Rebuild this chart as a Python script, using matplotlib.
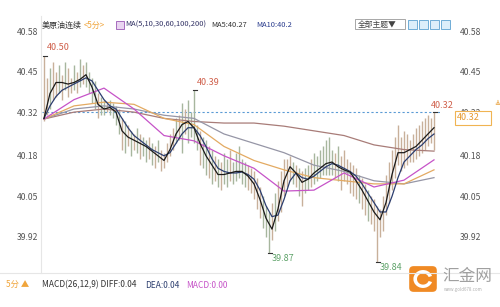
import matplotlib
matplotlib.use("Agg")
import matplotlib.pyplot as plt
from matplotlib.patches import FancyBboxPatch, Rectangle, Wedge

plt.rcParams['font.family'] = ['Noto Sans CJK SC', 'DejaVu Sans']

# ---------------- data ----------------
yticks = [40.58, 40.45, 40.32, 40.18, 40.05, 39.92]
ytick_labels = ["40.58", "40.45", "40.32", "40.18", "40.05", "39.92"]

highs = [40.50, 40.43, 40.46, 40.48, 40.45, 40.47, 40.44, 40.48, 40.46, 40.43,
         40.47, 40.45, 40.49, 40.47, 40.48, 40.45, 40.43, 40.42, 40.38, 40.37,
         40.36, 40.35, 40.36, 40.35, 40.34, 40.33, 40.30, 40.29, 40.28, 40.26,
         40.25, 40.27, 40.25, 40.24, 40.23, 40.24, 40.22, 40.21, 40.23, 40.20,
         40.19, 40.22, 40.25, 40.27, 40.30, 40.31, 40.35, 40.33, 40.36, 40.32,
         40.39, 40.28, 40.26, 40.24, 40.23, 40.21, 40.20, 40.18, 40.17, 40.16,
         40.19, 40.17, 40.20, 40.16, 40.19, 40.21, 40.17, 40.16, 40.15, 40.14,
         40.13, 40.11, 40.08, 40.05, 40.02, 40.00, 40.03, 40.06, 40.10, 40.13,
         40.17, 40.17, 40.18, 40.16, 40.15, 40.14, 40.13, 40.14, 40.15, 40.17,
         40.19, 40.18, 40.20, 40.21, 40.23, 40.24, 40.20, 40.19, 40.21, 40.18,
         40.20, 40.17, 40.16, 40.15, 40.14, 40.12, 40.11, 40.09, 40.07, 40.05,
         40.04, 40.02, 40.01, 40.05, 40.12, 40.16, 40.20, 40.24, 40.28, 40.24,
         40.26, 40.25, 40.23, 40.25, 40.27, 40.28, 40.29, 40.30, 40.31, 40.30,
         40.32]
lows = [40.29, 40.31, 40.33, 40.36, 40.37, 40.38, 40.36, 40.39, 40.37, 40.38,
        40.39, 40.38, 40.40, 40.41, 40.40, 40.38, 40.35, 40.33, 40.30, 40.31,
        40.31, 40.32, 40.31, 40.30, 40.28, 40.25, 40.20, 40.19, 40.21, 40.18,
        40.20, 40.19, 40.17, 40.18, 40.16, 40.17, 40.15, 40.14, 40.16, 40.13,
        40.14, 40.16, 40.18, 40.20, 40.22, 40.23, 40.19, 40.25, 40.22, 40.24,
        40.22, 40.20, 40.15, 40.14, 40.12, 40.11, 40.09, 40.10, 40.08, 40.07,
        40.09, 40.08, 40.10, 40.09, 40.10, 40.11, 40.09, 40.08, 40.07, 40.06,
        40.04, 40.01, 39.98, 39.95, 39.92, 39.87, 39.91, 39.94, 39.97, 40.00,
        40.05, 40.08, 40.10, 40.09, 40.08, 40.05, 40.02, 40.06, 40.07, 40.08,
        40.09, 40.10, 40.11, 40.12, 40.12, 40.12, 40.12, 40.11, 40.10, 40.07,
        40.10, 40.09, 40.06, 40.05, 40.04, 40.03, 40.01, 39.99, 39.97, 39.96,
        39.94, 39.84, 39.92, 39.94, 39.99, 40.03, 40.07, 40.11, 40.15, 40.13,
        40.14, 40.15, 40.16, 40.16, 40.17, 40.18, 40.19, 40.20, 40.21, 40.22,
        40.20]
bar_dirs = ("uudu udud uudu dudd ddud duddd dudud ududd udud uuuu udud ud"
            "dd dudd udud uddu dddd duuu uudd dudu uuuu dudu ddud dddd ddud"
            "uuuu uudu uduu uuuu u").replace(" ", "")

ma5 = [40.30, 40.38, 40.415, 40.415, 40.41, 40.415, 40.425, 40.44, 40.40, 40.345,
       40.33, 40.335, 40.32, 40.26, 40.24, 40.23, 40.22, 40.21, 40.195, 40.18,
       40.165, 40.20, 40.25, 40.28, 40.29, 40.27, 40.22, 40.18, 40.15, 40.12,
       40.12, 40.125, 40.13, 40.13, 40.115, 40.09, 40.04, 39.98, 39.945, 40.01,
       40.10, 40.145, 40.125, 40.095, 40.105, 40.125, 40.14, 40.155, 40.16, 40.145,
       40.135, 40.128, 40.10, 40.07, 40.035, 40.00, 39.975, 40.03, 40.12, 40.19,
       40.19, 40.20, 40.21, 40.23, 40.25, 40.27]
ma10 = [40.30, 40.34, 40.37, 40.39, 40.40, 40.41, 40.42, 40.43, 40.42, 40.39,
        40.36, 40.34, 40.33, 40.30, 40.27, 40.245, 40.23, 40.215, 40.20, 40.19,
        40.18, 40.19, 40.22, 40.25, 40.27, 40.27, 40.245, 40.21, 40.17, 40.14,
        40.13, 40.125, 40.125, 40.128, 40.12, 40.105, 40.07, 40.02, 39.985, 39.99,
        40.04, 40.10, 40.125, 40.11, 40.105, 40.115, 40.13, 40.145, 40.155, 40.15,
        40.14, 40.13, 40.115, 40.09, 40.06, 40.03, 40.00, 40.00, 40.05, 40.11,
        40.16, 40.18, 40.20, 40.215, 40.235, 40.25]
ma30 = [40.298, 40.36, 40.397, 40.33, 40.245, 40.228, 40.18, 40.14, 40.067, 40.07,
        40.125, 40.08, 40.102, 40.167]
ma60 = [40.298, 40.34, 40.352, 40.345, 40.30, 40.28, 40.21, 40.165, 40.135, 40.11,
        40.10, 40.09, 40.09, 40.135]
ma100 = [40.298, 40.33, 40.34, 40.33, 40.31, 40.30, 40.25, 40.22, 40.19, 40.15,
         40.13, 40.10, 40.09, 40.11]
ma200 = [40.298, 40.32, 40.33, 40.32, 40.30, 40.29, 40.285, 40.285, 40.275, 40.26,
         40.245, 40.215, 40.20, 40.195]
last_price = 40.32

# ---------------- figure ----------------
W, H = 500, 307
fig = plt.figure(figsize=(W / 100, H / 100), dpi=100)
fig.patch.set_facecolor("white")

def fx(px):
    return px / W

def fy(py):
    return 1 - py / H

YLIM = (39.8204, 40.6153)
ax = fig.add_axes([fx(42), fy(268), fx(440) - fx(42), fy(20) - fy(268)])
ax.set_facecolor("white")
ax.set_xlim(-0.667, 132)
ax.set_ylim(*YLIM)
for s in ax.spines.values():
    s.set_visible(False)
ax.set_xticks([])
ax.set_yticks(yticks)
ax.set_yticklabels(ytick_labels)
ax.tick_params(axis="y", length=0, labelsize=6.2, labelcolor="#555555", pad=3)

axr = ax.twinx()
axr.set_ylim(*YLIM)
for s in axr.spines.values():
    s.set_visible(False)
axr.set_yticks(yticks)
axr.set_yticklabels(ytick_labels)
axr.tick_params(axis="y", length=0, labelsize=6.2, labelcolor="#555555", pad=14)

# bars
up_c, dn_c = "#c8b09a", "#a7b69e"
n = len(highs)
xs = list(range(n))
cols = [up_c if (bar_dirs[i] if i < len(bar_dirs) else "u") == "u" else dn_c for i in range(n)]
ax.vlines(xs, lows, highs, colors=cols, linewidth=1.0, zorder=2)

# moving averages
idx2 = list(range(0, 2 * len(ma5), 2))
idx10 = list(range(0, 10 * len(ma30), 10))
ax.plot(idx10, ma200, color="#a87c78", lw=0.9, zorder=3)
ax.plot(idx10, ma100, color="#9696a6", lw=0.9, zorder=3)
ax.plot(idx10, ma60, color="#e3aa62", lw=0.9, zorder=3)
ax.plot(idx10, ma30, color="#c653c8", lw=0.9, zorder=3)
ax.plot(idx2, ma10, color="#2b3d6e", lw=0.9, zorder=4)
ax.plot(idx2, ma5, color="#1a1a1a", lw=0.9, zorder=5)

# last price dotted line
ax.axhline(last_price, color="#5b9bd5", lw=0.8, ls=(0, (2, 2)), zorder=1)

# extreme markers
hi_i, lo1_i, hi2_i, lo2_i, last_i = 0, 75, 50, 111, n - 1
red = "#cf5f4a"
grn = "#5fa36a"
for i, v, col, dy, dx, lab in [(hi_i, highs[hi_i], red, 0.012, 1.0, "40.50"),
                                (hi2_i, highs[hi2_i], red, 0.012, 1.0, "40.39"),
                                (last_i, highs[last_i], red, 0.008, -1.0, "40.32"),
                                (lo1_i, lows[lo1_i], grn, -0.032, 1.0, "39.87"),
                                (lo2_i, lows[lo2_i], grn, -0.032, 1.0, "39.84")]:
    ax.plot([i - 0.5, i + 1.0], [v, v], color="#333333", lw=0.8, zorder=6)
    ax.text(i + dx, v + dy, lab, color=col, fontsize=6.5, ha="left",
            va="bottom", clip_on=False, zorder=7)

# right price box (covers the right 40.32 tick label as in the reference)
fig.patches.append(Rectangle((fx(455), fy(125)), fx(36), fy(111) - fy(125),
                             transform=fig.transFigure, facecolor="white",
                             edgecolor="#f0b452", lw=0.8, zorder=5))
fig.text(fx(457), fy(118), "40.32", color="#e69a2e", fontsize=6.5,
         va="center", ha="left", zorder=6)
fig.text(fx(497), fy(103), "≜", color="#e69a2e", fontsize=5, va="center", ha="center")

# frame lines
fig.add_artist(plt.Line2D([fx(41), fx(41)], [fy(16), fy(273)], color="#e6e6e6", lw=0.8))
fig.add_artist(plt.Line2D([0, 1], [fy(273), fy(273)], color="#e6e6e6", lw=0.8))

# header
hy = fy(25)
fs = 5.4
fig.text(fx(42), hy, "美原油连续", fontsize=5.8, color="#333333", va="center")
fig.text(fx(84), hy, "<5分>", fontsize=5.8, color="#f0a53c", va="center")
fig.patches.append(Rectangle((fx(116), fy(29)), fx(8), fy(21) - fy(29),
                             transform=fig.transFigure, facecolor="#e9d4f0",
                             edgecolor="#9a58b5", lw=0.6))
fig.text(fx(125), hy, "MA(5,10,30,60,100,200)", fontsize=fs, color="#333366", va="center")
fig.text(fx(211), hy, "MA5:40.27", fontsize=fs, color="#333333", va="center")
fig.text(fx(256), hy, "MA10:40.2", fontsize=fs, color="#2b3d8e", va="center")
fig.patches.append(Rectangle((fx(355), fy(29)), fx(50), fy(19) - fy(29),
                             transform=fig.transFigure, facecolor="white",
                             edgecolor="#999999", lw=0.6))
fig.text(fx(358), fy(24.5), "全部主题▼", fontsize=5.6, color="#444444", va="center")
for k in range(4):
    fig.patches.append(Rectangle((fx(408 + 11 * k), fy(29)), fx(9), fy(20) - fy(29),
                                 transform=fig.transFigure, facecolor="#dceefa",
                                 edgecolor="#5aa0d0", lw=0.6))

# bottom MACD header
fig.text(fx(6), fy(284), "5分 ▲", fontsize=6.0, color="#f0a53c", va="center")
by = fy(285)
fig.text(fx(42), by, "MACD(26,12,9) DIFF:0.04", fontsize=6.0, color="#333333", va="center")
fig.text(fx(145), by, "DEA:0.04", fontsize=6.0, color="#2b3d6e", va="center")
fig.text(fx(186), by, "MACD:0.00", fontsize=6.0, color="#c653c8", va="center")

# logo
lax = fig.add_axes([fx(408), fy(293), fx(30), fy(265) - fy(293)])
lax.set_xlim(0, 1)
lax.set_ylim(0, 1)
lax.axis("off")
lax.add_patch(FancyBboxPatch((0.04, 0.04), 0.92, 0.92,
                             boxstyle="round,pad=0,rounding_size=0.15",
                             facecolor="#f08a24", edgecolor="none"))
lax.add_patch(Wedge((0.5, 0.5), 0.32, 20, 340, width=0.12, facecolor="white"))
fig.text(fx(442), fy(276), "汇金网", fontsize=12, color="#a0a0a0", va="center")
fig.text(fx(444), fy(289), "www.gold678.com", fontsize=3.2, color="#b0b0b0", va="center")

fig.savefig("out.png", dpi=100, facecolor="white")
